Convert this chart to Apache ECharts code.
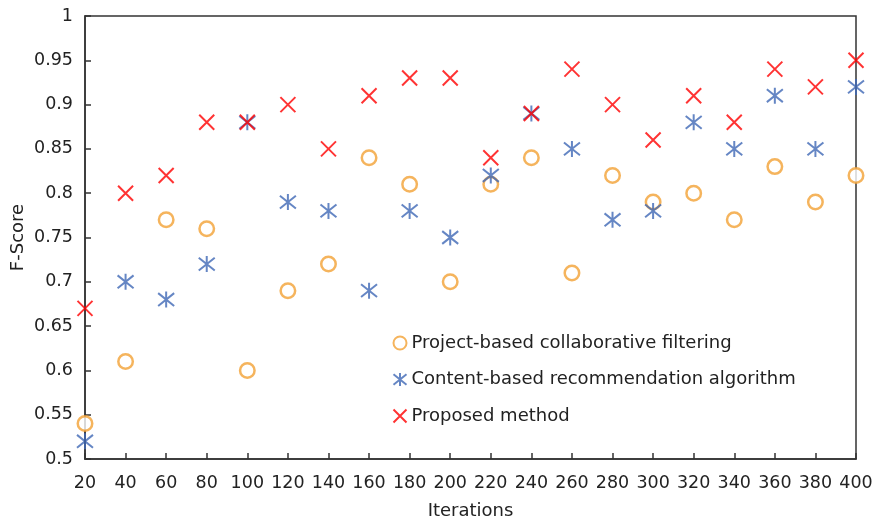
<!DOCTYPE html>
<html><head><meta charset="utf-8">
<script src="https://cdn.jsdelivr.net/npm/echarts@6/dist/echarts.min.js"></script>
<style>html,body{margin:0;padding:0;background:#fff}#c{width:874px;height:522px}</style>
</head><body><div id="c"></div>
<script>
const iterations = ['20','40','60','80','100','120','140','160','180','200','220','240','260','280','300','320','340','360','380','400'];
const projectBased = [0.54,0.61,0.77,0.76,0.60,0.69,0.72,0.84,0.81,0.70,0.81,0.84,0.71,0.82,0.79,0.80,0.77,0.83,0.79,0.82];
const contentBased = [0.52,0.70,0.68,0.72,0.88,0.79,0.78,0.69,0.78,0.75,0.82,0.89,0.85,0.77,0.78,0.88,0.85,0.91,0.85,0.92];
const proposed = [0.67,0.80,0.82,0.88,0.88,0.90,0.85,0.91,0.93,0.93,0.84,0.89,0.94,0.90,0.86,0.91,0.88,0.94,0.92,0.95];
const yTicks = {min:0.5, max:1, interval:0.05};

const FONT = 'DejaVu Sans';
const FS = 17.5;
const chart = echarts.init(document.getElementById('c'));
const XPATH = 'path://M0,0L10,10M10,0L0,10';
const STAR = 'path://M0,1L10,9M10,1L0,9M5,0L5,10';
chart.setOption({
  animation:false,
  textStyle:{fontFamily:FONT},
  grid:{left:85,right:18,top:16,bottom:63,show:true,borderColor:'#333',borderWidth:1.5,
        containLabel:false,outerBoundsMode:'none'},
  legend:{
    orient:'vertical', left:386, top:329, itemGap:18.5, itemWidth:13, itemHeight:13,
    textStyle:{fontFamily:FONT,fontSize:18,color:'#222'},
    data:['Project-based collaborative filtering','Content-based recommendation algorithm','Proposed method']
  },
  xAxis:{
    type:'category', data:iterations, boundaryGap:false,
    name:'Iterations', nameLocation:'middle', nameGap:43, nameMoveOverlap:false,
    nameTextStyle:{fontFamily:FONT,fontSize:18,color:'#222'},
    axisLine:{lineStyle:{color:'#333',width:1.5}},
    axisTick:{inside:true,length:6,lineStyle:{color:'#333',width:1.5}},
    axisLabel:{fontFamily:FONT,fontSize:FS,color:'#222',margin:15,interval:0},
    splitLine:{show:false}
  },
  yAxis:{
    type:'value', min:yTicks.min, max:yTicks.max, interval:yTicks.interval,
    name:'F-Score', nameLocation:'middle', nameGap:58, nameMoveOverlap:false,
    nameTextStyle:{fontFamily:FONT,fontSize:18,color:'#222'},
    axisLine:{show:true,lineStyle:{color:'#333',width:1.5}},
    axisTick:{show:true,inside:true,length:6,lineStyle:{color:'#333',width:1.5}},
    axisLabel:{fontFamily:FONT,fontSize:FS,color:'#222',margin:12,
      formatter:v=>String(parseFloat(v.toFixed(2)))},
    splitLine:{show:false}
  },
  series:[
    {name:'Project-based collaborative filtering',type:'scatter',data:projectBased,
     symbol:'circle',symbolSize:14.5,
     itemStyle:{color:'#fff',borderColor:'#F2A134',borderWidth:2.5}},
    {name:'Content-based recommendation algorithm',type:'scatter',data:contentBased,
     symbol:STAR,symbolSize:16,
     itemStyle:{color:'none',borderColor:'#3F68B5',borderWidth:2}},
    {name:'Proposed method',type:'scatter',data:proposed,
     symbol:XPATH,symbolSize:15,
     itemStyle:{color:'none',borderColor:'#FF0000',borderWidth:2}}
  ]
});
</script></body></html>
